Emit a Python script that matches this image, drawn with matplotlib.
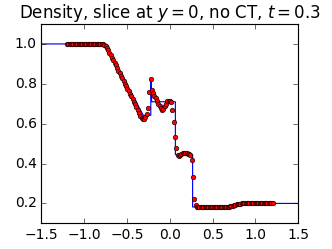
import numpy as np
import matplotlib
matplotlib.use("Agg")
import matplotlib.pyplot as plt

plt.style.use('classic')
plt.rcParams['mathtext.fontset'] = 'dejavusans'

# simulation slice (dots) on uniform grid from -1.2 to 1.2
x_start, x_stop, n_pts = -1.2, 1.2, 161
rho_num = [1.0] * 28 + [
    0.999, 0.996, 0.990, 0.981, 0.969, 0.956, 0.943, 0.930, 0.918, 0.905,
    0.892, 0.879, 0.866, 0.853, 0.840, 0.827, 0.814, 0.801, 0.789, 0.776,
    0.763, 0.750, 0.737, 0.724, 0.711, 0.698, 0.685, 0.670, 0.654, 0.639,
    0.628, 0.622, 0.623, 0.631, 0.647, 0.680, 0.760, 0.822, 0.770, 0.755,
    0.740, 0.727, 0.714, 0.700, 0.688, 0.677, 0.669, 0.672, 0.687, 0.701,
    0.712, 0.716, 0.713, 0.708, 0.668, 0.608, 0.535, 0.478, 0.443, 0.438,
    0.442, 0.448, 0.452, 0.454, 0.455, 0.453, 0.450, 0.447, 0.443, 0.420,
    0.333, 0.222, 0.190, 0.184,
    0.183, 0.183, 0.183, 0.182, 0.182, 0.182, 0.181, 0.181, 0.181, 0.181,
    0.181, 0.181, 0.181, 0.181, 0.181, 0.182, 0.182, 0.182, 0.182, 0.183,
    0.183, 0.183, 0.183, 0.183, 0.184,
    0.185, 0.186, 0.188, 0.190, 0.193, 0.195, 0.197, 0.198, 0.199,
] + [0.2] * 25

# reference solution (line)
ref_x = [-1.5, -0.75, -0.31, -0.222, -0.222, -0.212, 0.065, 0.065, 0.10,
         0.17, 0.24, 0.266, 0.266, 0.70, 0.85, 1.5]
ref_rho = [1.0, 1.0, 0.642, 0.642, 0.827, 0.710, 0.710, 0.445, 0.440,
           0.455, 0.446, 0.445, 0.182, 0.182, 0.200, 0.200]

x_num = np.linspace(x_start, x_stop, n_pts)

fig = plt.figure(figsize=(4, 3), dpi=83)
ax = fig.add_axes([0.1245, 0.103, 0.774, 0.8006])
ax.plot(ref_x, ref_rho, 'b-', lw=1)
ax.plot(x_num, rho_num, 'ro', ms=4, mew=0.5, mec='k')
ax.set_xlim(-1.5, 1.5)
ax.set_ylim(0.1, 1.1)
ax.set_xticks([-1.5, -1.0, -0.5, 0.0, 0.5, 1.0, 1.5])
ax.set_yticks([0.2, 0.4, 0.6, 0.8, 1.0])
ax.set_title(r'Density, slice at $y = 0$, no CT, $t = 0.3$')
fig.savefig('out.png', dpi=83)
